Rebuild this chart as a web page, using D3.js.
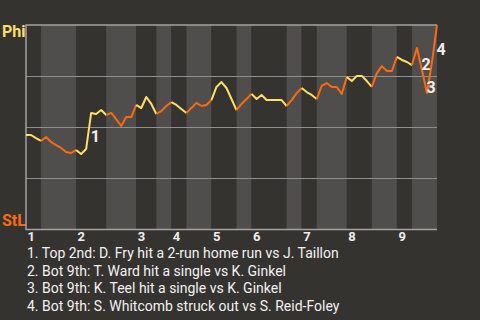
<!DOCTYPE html>
<html>
<head>
<meta charset="utf-8">
<script src="https://cdn.jsdelivr.net/npm/d3@7"></script>
<style>
  body { margin: 0; background: #353330; }
  svg { display: block; font-family: Roboto, "DejaVu Sans", sans-serif; }
</style>
</head>
<body>
<svg id="chart" width="480" height="320"></svg>
<script>
// Phillies win probability (%) after each event
const winProb = [
  46.2, 46.2, 44.7, 43.3, 45.2, 42.8, 41.3, 39.9, 37.9, 37.4,
  38.9, 36.9, 39.4, 57.0, 56.5, 58.4, 56.0, 57.0, 54.0, 50.6,
  55.0, 55.0, 60.9, 59.4, 64.8, 61.4, 56.5, 57.9, 60.4, 62.3,
  60.9, 58.9, 57.0, 59.4, 61.9, 60.4, 60.9, 63.3, 69.7, 72.1,
  69.2, 63.8, 58.4, 61.4, 63.8, 66.3, 63.8, 65.8, 63.3, 63.3,
  63.3, 63.3, 60.4, 63.3, 66.7, 69.2, 67.2, 65.8, 63.8, 70.2,
  71.6, 69.7, 69.7, 66.3, 74.6, 72.6, 75.1, 75.1, 72.6, 69.7,
  76.5, 79.9, 77.5, 77.5, 84.4, 82.9, 81.9, 80.4, 88.8, 78.0,
  66.7, 81.9, 100
];
// event index where each half-inning starts (top 1st ... bottom 9th, then end)
const halfStarts = [0, 3, 10, 16, 22, 26, 29, 32, 37, 42, 45, 52, 55, 58, 64, 69, 74, 77, 82];
const innings = ["1", "2", "3", "4", "5", "6", "7", "8", "9"];
const teams = ["Phi", "StL"];
// key plays: event index (segment ends here)
const keyEvents = [13, 79, 80, 82];
const notes = [
  "1. Top 2nd: D. Fry hit a 2-run home run vs J. Taillon",
  "2. Bot 9th: T. Ward hit a single vs K. Ginkel",
  "3. Bot 9th: K. Teel hit a single vs K. Ginkel",
  "4. Bot 9th: S. Whitcomb struck out vs S. Reid-Foley"
];

const topColor = "#ffdf66";
const botColor = "#ff6a0d";

const svg = d3.select("#chart");
const margin = { left: 26, top: 25, right: 43, bottom: 91 };
const W = 480, H = 320;
const last = winProb.length - 1;

const x = d3.scaleLinear()
  .domain([0, last])
  .range([margin.left, W - margin.right]);
const y = d3.scaleLinear()
  .domain([0, 100])
  .range([H - margin.bottom + 0.5, margin.top]);

// half-inning bands
const bands = d3.range(halfStarts.length - 1).map((k) => ({
  k, a: halfStarts[k], b: halfStarts[k + 1]
}));
svg.append("g")
  .selectAll("rect")
  .data(bands)
  .join("rect")
  .attr("x", (d) => x(d.a))
  .attr("y", y(100))
  .attr("width", (d) => x(d.b) - x(d.a))
  .attr("height", y(0) - y(100))
  .attr("fill", (d) => (d.k % 2 ? "#4f4e4d" : "#353330"));

// grid lines
svg.append("g")
  .selectAll("line")
  .data([25, 50, 75])
  .join("line")
  .attr("x1", x(0))
  .attr("x2", x(last))
  .attr("y1", (d) => Math.round(y(d)) + 0.5)
  .attr("y2", (d) => Math.round(y(d)) + 0.5)
  .attr("stroke", "#8e8e8e")
  .attr("stroke-width", 1.2);

// frame: top, left, bottom
const frame = d3.path();
frame.moveTo(x(last), y(100));
frame.lineTo(x(0), y(100));
frame.lineTo(x(0), y(0));
frame.lineTo(x(last), y(0));
svg.append("path")
  .attr("d", frame.toString())
  .attr("fill", "none")
  .attr("stroke", "#a2a2a2")
  .attr("stroke-width", 1.5);

// win probability line, coloured by half-inning
const line = d3.line()
  .x((d) => x(d))
  .y((d) => y(winProb[d]));
svg.append("g")
  .selectAll("path")
  .data(bands)
  .join("path")
  .attr("d", (d) => line(d3.range(d.a, d.b + 1)))
  .attr("fill", "none")
  .attr("stroke", (d) => (d.k % 2 ? botColor : topColor))
  .attr("stroke-width", 2)
  .attr("stroke-linejoin", "round");

// key event markers
svg.append("g")
  .selectAll("text")
  .data(keyEvents)
  .join("text")
  .attr("x", (d) => (x(d - 1) + x(d)) / 2 + 2)
  .attr("y", (d) => (y(winProb[d - 1]) + y(winProb[d])) / 2 + 11)
  .attr("fill", "#eeeeee")
  .attr("font-size", 16)
  .attr("font-weight", "bold")
  .text((d, i) => i + 1);

// team labels
svg.append("text")
  .attr("x", 2)
  .attr("y", y(100) + 12)
  .attr("fill", topColor)
  .attr("font-size", 16)
  .attr("font-weight", "bold")
  .text(teams[0]);
svg.append("text")
  .attr("x", 2)
  .attr("y", y(0) - 4)
  .attr("fill", botColor)
  .attr("font-size", 16)
  .attr("font-weight", "bold")
  .text(teams[1]);

// inning labels: one text element, a tspan per inning
svg.append("text")
  .attr("y", y(0) + 11)
  .attr("fill", "#eeeeee")
  .attr("font-size", 13)
  .attr("font-weight", "bold")
  .selectAll("tspan")
  .data(innings)
  .join("tspan")
  .attr("x", (d, i) => x(halfStarts[i * 2]) + 1.5)
  .text((d) => d);

// notes
svg.append("g")
  .selectAll("text")
  .data(notes)
  .join("text")
  .attr("x", 27)
  .attr("y", (d, i) => 258 + i * 17.7)
  .attr("fill", "#f2f2f2")
  .attr("font-size", 14)
  .text((d) => d);
</script>
</body>
</html>
